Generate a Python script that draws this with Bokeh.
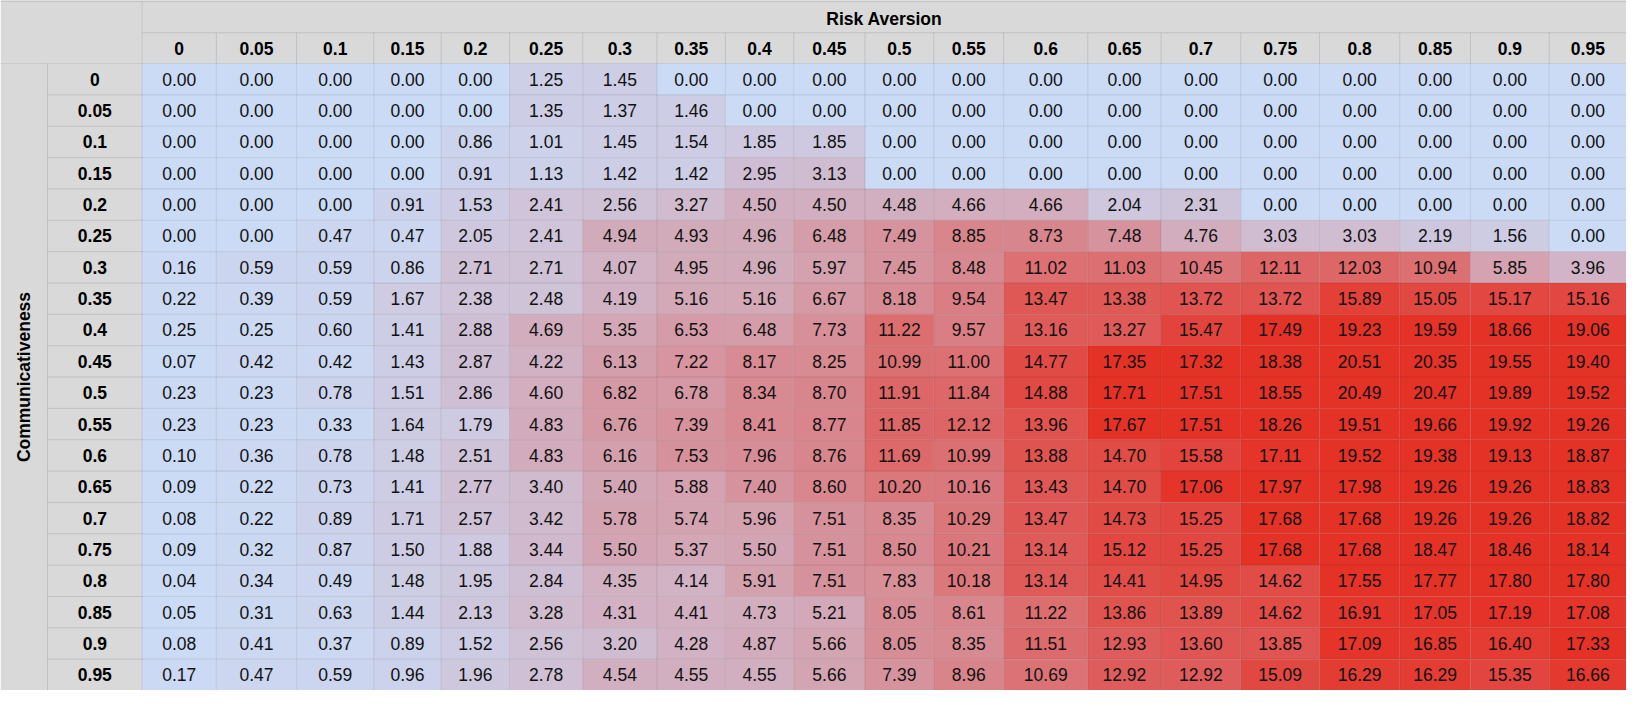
import math
import numpy as np
from bokeh.plotting import figure
from bokeh.models import Range1d, ColumnDataSource
from bokeh.embed import file_html
from bokeh.resources import INLINE
from bokeh.core.properties import value

# ---------------- data ----------------
x_title = "Risk Aversion"
y_title = "Communicativeness"
risk_aversion = ["0", "0.05", "0.1", "0.15", "0.2", "0.25", "0.3", "0.35", "0.4", "0.45",
                 "0.5", "0.55", "0.6", "0.65", "0.7", "0.75", "0.8", "0.85", "0.9", "0.95"]
communicativeness = ["0", "0.05", "0.1", "0.15", "0.2", "0.25", "0.3", "0.35", "0.4", "0.45",
                     "0.5", "0.55", "0.6", "0.65", "0.7", "0.75", "0.8", "0.85", "0.9", "0.95"]

c_000 = [0.00, 0.00, 0.00, 0.00, 0.00, 1.25, 1.45, 0.00, 0.00, 0.00, 0.00, 0.00, 0.00, 0.00, 0.00, 0.00, 0.00, 0.00, 0.00, 0.00]
c_005 = [0.00, 0.00, 0.00, 0.00, 0.00, 1.35, 1.37, 1.46, 0.00, 0.00, 0.00, 0.00, 0.00, 0.00, 0.00, 0.00, 0.00, 0.00, 0.00, 0.00]
c_010 = [0.00, 0.00, 0.00, 0.00, 0.86, 1.01, 1.45, 1.54, 1.85, 1.85, 0.00, 0.00, 0.00, 0.00, 0.00, 0.00, 0.00, 0.00, 0.00, 0.00]
c_015 = [0.00, 0.00, 0.00, 0.00, 0.91, 1.13, 1.42, 1.42, 2.95, 3.13, 0.00, 0.00, 0.00, 0.00, 0.00, 0.00, 0.00, 0.00, 0.00, 0.00]
c_020 = [0.00, 0.00, 0.00, 0.91, 1.53, 2.41, 2.56, 3.27, 4.50, 4.50, 4.48, 4.66, 4.66, 2.04, 2.31, 0.00, 0.00, 0.00, 0.00, 0.00]
c_025 = [0.00, 0.00, 0.47, 0.47, 2.05, 2.41, 4.94, 4.93, 4.96, 6.48, 7.49, 8.85, 8.73, 7.48, 4.76, 3.03, 3.03, 2.19, 1.56, 0.00]
c_030 = [0.16, 0.59, 0.59, 0.86, 2.71, 2.71, 4.07, 4.95, 4.96, 5.97, 7.45, 8.48, 11.02, 11.03, 10.45, 12.11, 12.03, 10.94, 5.85, 3.96]
c_035 = [0.22, 0.39, 0.59, 1.67, 2.38, 2.48, 4.19, 5.16, 5.16, 6.67, 8.18, 9.54, 13.47, 13.38, 13.72, 13.72, 15.89, 15.05, 15.17, 15.16]
c_040 = [0.25, 0.25, 0.60, 1.41, 2.88, 4.69, 5.35, 6.53, 6.48, 7.73, 11.22, 9.57, 13.16, 13.27, 15.47, 17.49, 19.23, 19.59, 18.66, 19.06]
c_045 = [0.07, 0.42, 0.42, 1.43, 2.87, 4.22, 6.13, 7.22, 8.17, 8.25, 10.99, 11.00, 14.77, 17.35, 17.32, 18.38, 20.51, 20.35, 19.55, 19.40]
c_050 = [0.23, 0.23, 0.78, 1.51, 2.86, 4.60, 6.82, 6.78, 8.34, 8.70, 11.91, 11.84, 14.88, 17.71, 17.51, 18.55, 20.49, 20.47, 19.89, 19.52]
c_055 = [0.23, 0.23, 0.33, 1.64, 1.79, 4.83, 6.76, 7.39, 8.41, 8.77, 11.85, 12.12, 13.96, 17.67, 17.51, 18.26, 19.51, 19.66, 19.92, 19.26]
c_060 = [0.10, 0.36, 0.78, 1.48, 2.51, 4.83, 6.16, 7.53, 7.96, 8.76, 11.69, 10.99, 13.88, 14.70, 15.58, 17.11, 19.52, 19.38, 19.13, 18.87]
c_065 = [0.09, 0.22, 0.73, 1.41, 2.77, 3.40, 5.40, 5.88, 7.40, 8.60, 10.20, 10.16, 13.43, 14.70, 17.06, 17.97, 17.98, 19.26, 19.26, 18.83]
c_070 = [0.08, 0.22, 0.89, 1.71, 2.57, 3.42, 5.78, 5.74, 5.96, 7.51, 8.35, 10.29, 13.47, 14.73, 15.25, 17.68, 17.68, 19.26, 19.26, 18.82]
c_075 = [0.09, 0.32, 0.87, 1.50, 1.88, 3.44, 5.50, 5.37, 5.50, 7.51, 8.50, 10.21, 13.14, 15.12, 15.25, 17.68, 17.68, 18.47, 18.46, 18.14]
c_080 = [0.04, 0.34, 0.49, 1.48, 1.95, 2.84, 4.35, 4.14, 5.91, 7.51, 7.83, 10.18, 13.14, 14.41, 14.95, 14.62, 17.55, 17.77, 17.80, 17.80]
c_085 = [0.05, 0.31, 0.63, 1.44, 2.13, 3.28, 4.31, 4.41, 4.73, 5.21, 8.05, 8.61, 11.22, 13.86, 13.89, 14.62, 16.91, 17.05, 17.19, 17.08]
c_090 = [0.08, 0.41, 0.37, 0.89, 1.52, 2.56, 3.20, 4.28, 4.87, 5.66, 8.05, 8.35, 11.51, 12.93, 13.60, 13.85, 17.09, 16.85, 16.40, 17.33]
c_095 = [0.17, 0.47, 0.59, 0.96, 1.96, 2.78, 4.54, 4.55, 4.55, 5.66, 7.39, 8.96, 10.69, 12.92, 12.92, 15.09, 16.29, 16.29, 15.35, 16.66]

rows = [c_000, c_005, c_010, c_015, c_020, c_025, c_030, c_035, c_040, c_045,
        c_050, c_055, c_060, c_065, c_070, c_075, c_080, c_085, c_090, c_095]

# ---------------- layout / style (reference pixel units) ----------------
REF_W, REF_H = 1642, 706
PLOT_W, PLOT_H = 1626, 690
TITLE_COL_R = 47.5
LABEL_COL_R = 143
COL_EDGES = [143, 218, 299, 377, 445, 514, 588, 663, 732, 801, 873, 942.5,
             1013, 1098, 1172, 1252.5, 1332, 1413, 1484.5, 1564, 1642]
HDR1_B = 33
HDR2_B = 64.5
ROW_H = (REF_H - HDR2_B) / len(communicativeness)

HEADER_FILL = "#d9d9d9"
GRID_COLOR = "black"
GRID_ALPHA = 0.11
LOW_RGB = (203, 219, 246)
HIGH_RGB = (229, 50, 39)
COLOR_MAX_PERCENTILE = 88   # colour scale saturates at this percentile of the values
FONT = "Liberation Sans"
FS = "17.5px"

all_vals = np.array(rows, dtype=float).ravel()
vmin = float(all_vals.min())
vtop = float(np.percentile(all_vals, COLOR_MAX_PERCENTILE))


def cell_color(v):
    t = max(0.0, min(1.0, (v - vmin) / (vtop - vmin)))
    r = round(LOW_RGB[0] + (HIGH_RGB[0] - LOW_RGB[0]) * t)
    g = round(LOW_RGB[1] + (HIGH_RGB[1] - LOW_RGB[1]) * t)
    b = round(LOW_RGB[2] + (HIGH_RGB[2] - LOW_RGB[2]) * t)
    return "#%02x%02x%02x" % (r, g, b)


p = figure(width=PLOT_W, height=PLOT_H, output_backend="svg", toolbar_location=None,
           x_range=Range1d(0, REF_W), y_range=Range1d(REF_H, 0),
           min_border=0, min_border_left=0, min_border_right=0,
           min_border_top=0, min_border_bottom=0)
p.axis.visible = False
p.grid.visible = False
p.outline_line_color = None
p.background_fill_color = "white"
p.border_fill_color = "white"

# header background blocks
hx, hy, hw, hh = [], [], [], []
hx.append(LABEL_COL_R / 2); hy.append(HDR2_B / 2); hw.append(LABEL_COL_R); hh.append(HDR2_B)
hx.append((LABEL_COL_R + REF_W) / 2); hy.append(HDR2_B / 2); hw.append(REF_W - LABEL_COL_R); hh.append(HDR2_B)
hx.append(LABEL_COL_R / 2); hy.append((HDR2_B + REF_H) / 2); hw.append(LABEL_COL_R); hh.append(REF_H - HDR2_B)
p.rect(x=hx, y=hy, width=hw, height=hh, fill_color=HEADER_FILL, line_color=None)

# data cells
cx, cy, cw, ch, cc, ct = [], [], [], [], [], []
for i, row in enumerate(rows):
    yc = HDR2_B + ROW_H * (i + 0.5)
    for j, v in enumerate(row):
        x0, x1 = COL_EDGES[j], COL_EDGES[j + 1]
        cx.append((x0 + x1) / 2); cy.append(yc)
        cw.append(x1 - x0); ch.append(ROW_H)
        cc.append(cell_color(v)); ct.append("%.2f" % v)
src = ColumnDataSource(dict(x=cx, y=cy, w=cw, h=ch, c=cc, t=ct))
p.rect(x="x", y="y", width="w", height="h", fill_color="c", line_color=None, source=src)

# grid lines
x0s, y0s, x1s, y1s = [], [], [], []
x0s.append(LABEL_COL_R); y0s.append(HDR1_B); x1s.append(REF_W); y1s.append(HDR1_B)
x0s.append(0); y0s.append(HDR2_B); x1s.append(REF_W); y1s.append(HDR2_B)
for k in range(1, len(communicativeness)):
    y = HDR2_B + ROW_H * k
    x0s.append(TITLE_COL_R); y0s.append(y); x1s.append(REF_W); y1s.append(y)
x0s.append(TITLE_COL_R); y0s.append(HDR2_B); x1s.append(TITLE_COL_R); y1s.append(REF_H)
x0s.append(LABEL_COL_R); y0s.append(0); x1s.append(LABEL_COL_R); y1s.append(REF_H)
for e in COL_EDGES[1:-1]:
    x0s.append(e); y0s.append(HDR1_B); x1s.append(e); y1s.append(REF_H)
p.segment(x0=x0s, y0=y0s, x1=x1s, y1=y1s, line_color=GRID_COLOR, line_alpha=GRID_ALPHA, line_width=1)
p.segment(x0=[0], y0=[0.6], x1=[REF_W], y1=[0.6], line_color="#bdbdbd", line_width=1.5)

# texts
p.text(x="x", y="y", text="t", source=src, text_font=value(FONT), text_font_size=FS,
       text_align="center", text_baseline="middle", text_color="#111111")

col_x = [(COL_EDGES[j] + COL_EDGES[j + 1]) / 2 for j in range(len(risk_aversion))]
p.text(x=col_x, y=[(HDR1_B + HDR2_B) / 2 + 0.5] * len(col_x), text=risk_aversion,
       text_font=value(FONT), text_font_size=FS, text_font_style="bold",
       text_align="center", text_baseline="middle", text_color="#000000")
row_y = [HDR2_B + ROW_H * (i + 0.5) for i in range(len(communicativeness))]
p.text(x=[(TITLE_COL_R + LABEL_COL_R) / 2] * len(row_y), y=row_y, text=communicativeness,
       text_font=value(FONT), text_font_size=FS, text_font_style="bold",
       text_align="center", text_baseline="middle", text_color="#000000")
p.text(x=[(LABEL_COL_R + REF_W) / 2], y=[HDR1_B / 2 + 2], text=[x_title],
       text_font=value(FONT), text_font_size=FS, text_font_style="bold",
       text_align="center", text_baseline="middle", text_color="#000000")
p.text(x=[TITLE_COL_R / 2], y=[(HDR2_B + REF_H) / 2], text=[y_title], angle=math.pi / 2,
       text_font=value(FONT), text_font_size=FS, text_font_style="bold",
       text_align="center", text_baseline="middle", text_color="#000000")

open("out.html", "w").write(file_html(p, INLINE))
